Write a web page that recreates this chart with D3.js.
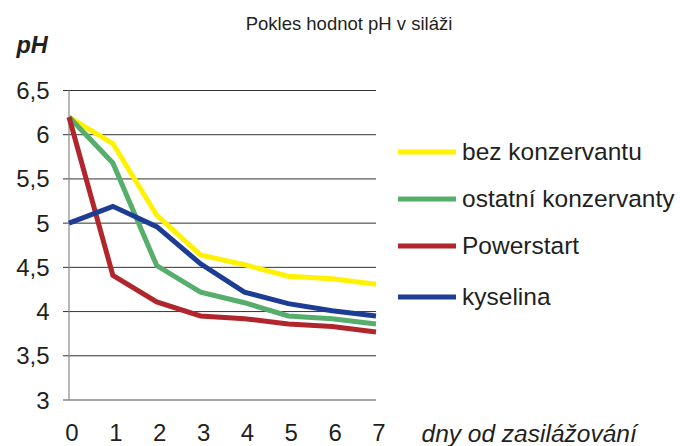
<!DOCTYPE html>
<html>
<head>
<meta charset="utf-8">
<script src="https://cdn.jsdelivr.net/npm/d3@7"></script>
<style>
  body { margin: 0; background: #fff; }
  text { font-family: "Liberation Sans", Arial, sans-serif; fill: #231f20; }
</style>
</head>
<body>
<script>
var days = [0, 1, 2, 3, 4, 5, 6, 7];
var yTicks = [3, 3.5, 4, 4.5, 5, 5.5, 6, 6.5];

var bezKonzervantu = [6.2, 5.9, 5.09, 4.64, 4.53, 4.4, 4.37, 4.31];
var ostatniKonzervanty = [6.2, 5.68, 4.52, 4.22, 4.1, 3.95, 3.92, 3.86];
var powerstart = [6.2, 4.41, 4.11, 3.95, 3.92, 3.86, 3.83, 3.77];
var kyselina = [5.0, 5.19, 4.96, 4.54, 4.22, 4.09, 4.01, 3.95];

var seriesNames = ["bez konzervantu", "ostatní konzervanty", "Powerstart", "kyselina"];
var seriesValues = [bezKonzervantu, ostatniKonzervanty, powerstart, kyselina];
var colors = ["#fff200", "#55ae6b", "#b1262d", "#1d3d94"];

var width = 680, height = 446;

var svg = d3.select("body").append("svg")
    .attr("width", width)
    .attr("height", height);

var x = d3.scaleLinear()
    .domain([0, 7])
    .range([69, 376]);

var y = d3.scaleLinear()
    .domain([3, 6.5])
    .range([400, 90.5]);

// grid lines
svg.append("g")
    .selectAll("line")
    .data(yTicks.slice(1))
    .enter().append("line")
    .attr("x1", 63)
    .attr("x2", x(7))
    .attr("y1", function(d) { return y(d); })
    .attr("y2", function(d) { return y(d); })
    .attr("stroke", "#333")
    .attr("stroke-width", 1);

// bottom axis line
svg.append("line")
    .attr("x1", 63).attr("x2", x(7))
    .attr("y1", y(3)).attr("y2", y(3))
    .attr("stroke", "#888").attr("stroke-width", 1.5);

// y axis line
svg.append("line")
    .attr("x1", x(0)).attr("x2", x(0))
    .attr("y1", y(6.5)).attr("y2", y(3))
    .attr("stroke", "#888").attr("stroke-width", 1.2);

var fmt = function(d) { return String(d).replace(".", ","); };

svg.append("g")
    .selectAll("text")
    .data(yTicks)
    .enter().append("text")
    .attr("x", 49.5)
    .attr("y", function(d) { return y(d) + 8.5; })
    .attr("text-anchor", "end")
    .style("font-size", "24px")
    .text(fmt);

svg.append("g")
    .selectAll("text")
    .data(days)
    .enter().append("text")
    .attr("x", function(d) { return x(d) + 3; })
    .attr("y", 441)
    .attr("text-anchor", "middle")
    .style("font-size", "24px")
    .text(function(d) { return d; });

var line = d3.line()
    .x(function(d, i) { return x(days[i]); })
    .y(function(d) { return y(d); });

svg.append("g")
    .selectAll("path")
    .data(seriesValues)
    .enter().append("path")
    .attr("d", line)
    .attr("fill", "none")
    .attr("stroke", function(d, i) { return colors[i]; })
    .attr("stroke-width", 5);

// legend
var legend = svg.append("g")
    .selectAll("g")
    .data(seriesNames)
    .enter().append("g")
    .attr("transform", function(d, i) { return "translate(398," + [152, 199, 246, 297][i] + ")"; });

legend.append("line")
    .attr("x1", 0).attr("x2", 58)
    .attr("stroke", function(d, i) { return colors[i]; })
    .attr("stroke-width", 5);

legend.append("text")
    .attr("x", 64)
    .attr("y", 8.3)
    .style("font-size", "24.5px")
    .text(function(d) { return d; });

svg.append("text")
    .attr("x", 349)
    .attr("y", 30)
    .attr("text-anchor", "middle")
    .style("font-size", "18.5px")
    .text("Pokles hodnot pH v siláži");

svg.append("text")
    .attr("x", 16.5)
    .attr("y", 53.3)
    .style("font-size", "23.5px")
    .style("font-weight", "bold")
    .style("font-style", "italic")
    .text("pH");

svg.append("text")
    .attr("x", 421.5)
    .attr("y", 441.5)
    .style("font-size", "24.5px")
    .style("font-style", "italic")
    .text("dny od zasilážování");
</script>
</body>
</html>
